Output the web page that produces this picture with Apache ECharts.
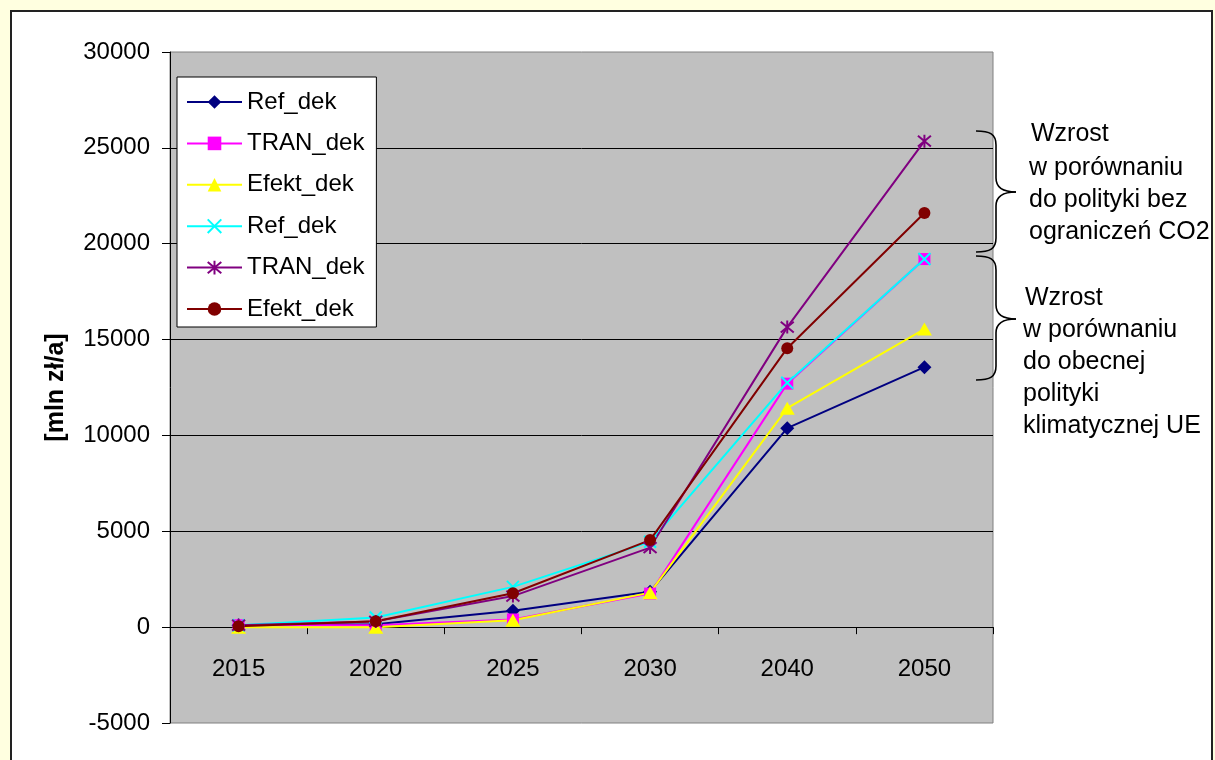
<!DOCTYPE html>
<html>
<head>
<meta charset="utf-8">
<script src="https://cdn.jsdelivr.net/npm/echarts@6/dist/echarts.min.js"></script>
<style>
  html, body { margin: 0; padding: 0; width: 1215px; height: 760px; overflow: hidden; background: #FFFFE0; }
  #panel { position: absolute; left: 10px; top: 10px; width: 1203px; height: 800px; background: #fff;
           border: 2px solid #222; box-sizing: border-box; }
  #chart { position: absolute; left: 0; top: 0; width: 1215px; height: 760px; }
</style>
</head>
<body>
<div id="panel"></div>
<div id="chart"></div>
<script>
// Categories (years)
const years = ['2015', '2020', '2025', '2030', '2040', '2050'];

// Costs [mln zł/a] per scenario
const refDek     = [100, 150, 860, 1850, 10380, 13560];
const tranDek    = [100, 100, 400, 1750, 12700, 19200];
const efektDek   = [0, 0, 365, 1800, 11420, 15550];
const refDek2    = [100, 500, 2100, 4450, 12750, 19200];
const tranDek2   = [100, 300, 1620, 4150, 15650, 25350];
const efektDek2  = [50, 310, 1770, 4540, 14550, 21600];

// Legend labels (two groups share the same names)
const seriesLabels = ['Ref_dek', 'TRAN_dek', 'Efekt_dek', 'Ref_dek', 'TRAN_dek', 'Efekt_dek'];

// Y axis range and ticks
const yMin = -5000, yMax = 30000, yStep = 5000;

// Annotation text beside the plot
const noteTop = ['Wzrost', 'w porównaniu', 'do polityki bez', 'ograniczeń CO2'];
const noteBottom = ['Wzrost', 'w porównaniu', 'do obecnej', 'polityki', 'klimatycznej UE'];

const FONT = '"Liberation Sans", Arial, sans-serif';
const seriesData = [refDek, tranDek, efektDek, refDek2, tranDek2, efektDek2];
const colors = ['#000080', '#FF00FF', '#FFFF00', '#00FFFF', '#800080', '#800000'];
const symbols = [
  'diamond',
  'rect',
  'triangle',
  'path://M0,0L10,10M10,0L0,10',
  'path://M0,0L10,10M10,0L0,10M5,-1L5,11',
  'circle'
];
const symbolSizes = [14, 12, [15, 13], 12, 13, 12];
const keys = seriesLabels.map((n, i) => 'k' + i);

// Plot area box
const GRID = { left: 170, top: 52, right: 222, bottom: 37 };
const gridHeight = 760 - GRID.top - GRID.bottom;
// Category axis sits on the value 0 line
const zeroOffset = -((0 - yMin) / (yMax - yMin)) * gridHeight;

const series = seriesData.map((d, i) => {
  const stroked = i === 3 || i === 4;
  return {
    type: 'line',
    name: keys[i],
    data: d,
    symbol: symbols[i],
    symbolSize: symbolSizes[i],
    showAllSymbol: true,
    lineStyle: { color: colors[i], width: 2 },
    itemStyle: stroked
      ? { color: colors[i], borderColor: colors[i], borderWidth: 2 }
      : { color: colors[i], borderWidth: 0 },
    emphasis: { disabled: true },
    animation: false
  };
});

// Curly brace "}" made of cubic curves and straight pieces
function braceGraphic(y0, ym, y1) {
  const l = 976, s = 996, t = 1016;
  const st = { fill: 'none', stroke: '#000', lineWidth: 1.6 };
  const curve = (x1, y1_, cx1, cy1, cx2, cy2, x2, y2) => ({
    type: 'bezierCurve', silent: true, style: st,
    shape: { x1: x1, y1: y1_, cpx1: cx1, cpy1: cy1, cpx2: cx2, cpy2: cy2, x2: x2, y2: y2 }
  });
  const line = (x1, y1_, x2, y2) => ({ type: 'line', silent: true, style: st, shape: { x1: x1, y1: y1_, x2: x2, y2: y2 } });
  return [
    curve(l, y0, l + 14, y0, s, y0 + 3, s, y0 + 14),
    line(s, y0 + 14, s, ym - 14),
    curve(s, ym - 14, s, ym - 4, s + 8, ym, t, ym),
    curve(t, ym, s + 8, ym, s, ym + 4, s, ym + 14),
    line(s, ym + 14, s, y1 - 14),
    curve(s, y1 - 14, s, y1 - 3, l + 14, y1, l, y1)
  ];
}

function noteLines(lines, xs, ys) {
  return lines.map((t, i) => ({
    type: 'text', x: xs[i], y: ys[i], silent: true,
    style: { text: t, font: '25px ' + FONT, fill: '#000', verticalAlign: 'middle', align: 'left' }
  }));
}

const chart = echarts.init(document.getElementById('chart'), null, { renderer: 'canvas' });
chart.setOption({
  backgroundColor: 'transparent',
  animation: false,
  grid: {
    left: GRID.left, top: GRID.top, right: GRID.right, bottom: GRID.bottom,
    outerBoundsMode: 'none',
    containLabel: false,
    show: true, backgroundColor: '#C0C0C0', borderColor: '#808080', borderWidth: 1
  },
  legend: {
    data: keys,
    orient: 'vertical',
    left: 177, top: 77,
    padding: [13, 12, 6, 9],
    itemGap: 17.4,
    itemWidth: 55, itemHeight: 17,
    backgroundColor: '#fff', borderColor: '#000', borderWidth: 1,
    selectedMode: false,
    lineStyle: { width: 2 },
    formatter: name => seriesLabels[keys.indexOf(name)],
    textStyle: { fontFamily: FONT, fontSize: 24, color: '#000', lineHeight: 24 }
  },
  xAxis: {
    type: 'category',
    data: years,
    boundaryGap: true,
    position: 'bottom',
    offset: zeroOffset,
    axisLine: { onZero: false, lineStyle: { color: '#000', width: 1 } },
    axisTick: { show: true, length: 7, lineStyle: { color: '#000' } },
    axisLabel: { fontFamily: FONT, fontSize: 24, color: '#000', margin: 30 },
    splitLine: { show: false }
  },
  yAxis: {
    type: 'value',
    min: yMin, max: yMax, interval: yStep,
    name: '[mln zł/a]',
    nameLocation: 'middle',
    nameRotate: 90,
    nameGap: 101,
    nameTextStyle: { fontFamily: FONT, fontSize: 25, fontWeight: 'bold', color: '#000' },
    axisLine: { show: true, lineStyle: { color: '#000', width: 1 } },
    axisTick: { show: true, length: 8, lineStyle: { color: '#000' } },
    axisLabel: { fontFamily: FONT, fontSize: 24, color: '#000', margin: 20, formatter: v => String(v) },
    splitLine: { show: true, showMinLine: false, showMaxLine: false, lineStyle: { color: '#000', width: 1 } }
  },
  series: series,
  graphic: [
    ...braceGraphic(131, 192, 252),
    ...braceGraphic(256, 319, 380),
    ...noteLines(noteTop, [1031, 1029, 1029, 1029], [134, 168, 200, 232]),
    ...noteLines(noteBottom, [1025, 1023, 1023, 1023, 1023], [298, 330, 362, 394, 426])
  ]
});
</script>
</body>
</html>
